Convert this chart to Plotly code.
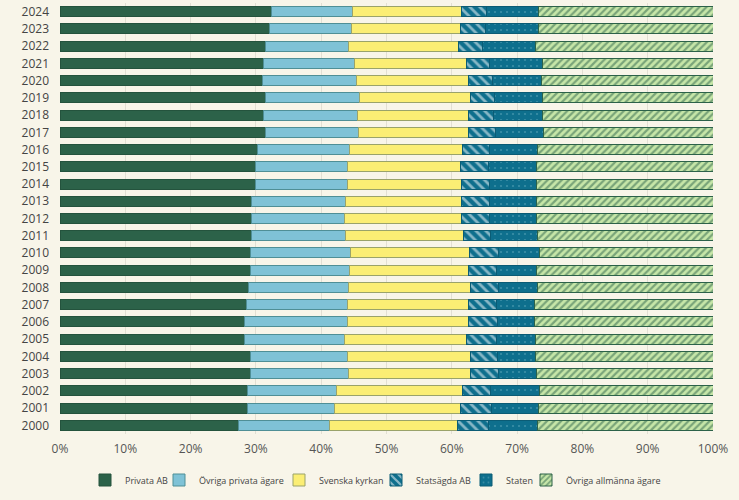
import plotly.graph_objects as go

years = [str(y) for y in range(2000, 2025)]

privata_ab = [27.4, 28.7, 28.7, 29.2, 29.2, 28.2, 28.2, 28.5, 28.8, 29.1, 29.2, 29.3, 29.4,
              29.4, 29.9, 29.9, 30.2, 31.4, 31.2, 31.4, 31.0, 31.2, 31.5, 32.1, 32.4]
ovriga_privata = [13.8, 13.4, 13.7, 15.0, 14.9, 15.4, 15.8, 15.5, 15.4, 15.2, 15.3, 14.4, 14.2,
                  14.3, 14.1, 14.1, 14.1, 14.3, 14.4, 14.4, 14.4, 13.9, 12.7, 12.6, 12.4]
svenska_kyrkan = [19.6, 19.2, 19.3, 18.7, 18.8, 18.6, 18.5, 18.5, 18.6, 18.3, 18.2, 18.1, 17.9,
                  17.8, 17.5, 17.4, 17.4, 16.9, 17.0, 17.0, 17.2, 17.1, 16.8, 16.7, 16.7]
statsagda_ab = [4.8, 4.8, 4.2, 4.3, 4.1, 4.7, 4.5, 4.3, 4.3, 4.3, 4.4, 4.2, 4.3,
                4.3, 4.3, 4.2, 4.1, 4.1, 3.8, 3.7, 3.7, 3.5, 3.7, 3.7, 3.8]
staten = [7.5, 7.2, 7.5, 5.7, 5.8, 5.9, 5.6, 5.9, 6.0, 6.1, 6.3, 7.1, 7.2,
          7.2, 7.2, 7.4, 7.3, 7.3, 7.5, 7.4, 7.4, 8.2, 8.1, 8.1, 8.0]
ovriga_allmanna = [26.9, 26.7, 26.6, 27.1, 27.2, 27.2, 27.4, 27.3, 26.9, 27.0, 26.6, 26.9, 27.0,
                   27.0, 27.0, 27.0, 26.9, 26.0, 26.1, 26.1, 26.3, 26.1, 27.2, 26.8, 26.7]

x_ticks = [0, 10, 20, 30, 40, 50, 60, 70, 80, 90, 100]
x_tick_labels = ["0%", "10%", "20%", "30%", "40%", "50%", "60%", "70%", "80%", "90%", "100%"]

W, H = 739, 500

series = [
    ("Privata AB", privata_ab, dict(color="#2c6249", line=dict(color="#24533d", width=1))),
    ("Övriga privata ägare", ovriga_privata, dict(color="#7fc2d6", line=dict(color="#4f8f96", width=1))),
    ("Svenska kyrkan", svenska_kyrkan, dict(color="#fbee74", line=dict(color="#9aa36a", width=1))),
    ("Statsägda AB", statsagda_ab, dict(color="#0e6f8d", line=dict(color="#0b5c75", width=1),
                                        pattern=dict(shape="\\", bgcolor="#0e6f8d", fgcolor="#ffffff",
                                                     size=7, solidity=0.4))),
    ("Staten", staten, dict(color="#0e6f8d", line=dict(color="#0b5c75", width=1),
                            pattern=dict(shape=".", bgcolor="#0e6f8d", fgcolor="#6aaebf",
                                         size=6, solidity=0.1))),
    ("Övriga allmänna ägare", ovriga_allmanna, dict(color="#c6e6a8", line=dict(color="#2c6249", width=1),
                                                   pattern=dict(shape="/", bgcolor="#c6e6a8", fgcolor="#2c6249",
                                                                size=5, solidity=0.45))),
]

# legend symbol centres (px) for each entry, one small legend per entry
legend_symbol_px = [105, 179, 299, 396, 486, 546]

fig = go.Figure()
legend_layout = {}
for i, (name, vals, marker) in enumerate(series):
    lname = "legend" if i == 0 else f"legend{i + 1}"
    fig.add_trace(go.Bar(y=years, x=vals, name=name, orientation="h", marker=marker,
                         legend=lname,
                         hovertemplate="%{y}: %{x:.1f}%<extra>" + name + "</extra>"))
    legend_layout[lname] = dict(
        orientation="h", xref="container", yref="container",
        x=(legend_symbol_px[i] - 20) / W, xanchor="left",
        y=1 - 480 / H, yanchor="middle",
        font=dict(size=9, color="#444444"), itemwidth=30,
        bgcolor="rgba(0,0,0,0)", borderwidth=0,
    )

bg = "#f8f5e9"
fig.update_layout(
    barmode="stack",
    bargap=0.42,
    width=W, height=H,
    paper_bgcolor=bg, plot_bgcolor=bg,
    margin=dict(l=60, r=26, t=3, b=66, autoexpand=False),
    font=dict(family="Open Sans, sans-serif", color="#444444", size=12),
    xaxis=dict(range=[0, 100], tickvals=x_ticks, ticktext=x_tick_labels, showgrid=True,
               gridcolor="#e2dfd3", gridwidth=1, zeroline=False, showline=False,
               ticklabelstandoff=6, tickfont=dict(size=12, color="#555555")),
    yaxis=dict(type="category", range=[-0.5, 24.5], showgrid=False,
               tickfont=dict(size=12, color="#444444"), ticks="", automargin=False,
               ticklabelstandoff=10),
    showlegend=True,
    **legend_layout,
)

fig.write_html("out.html", config={"displayModeBar": False},
               post_script="document.body.style.margin='0';document.body.style.overflow='hidden';")
